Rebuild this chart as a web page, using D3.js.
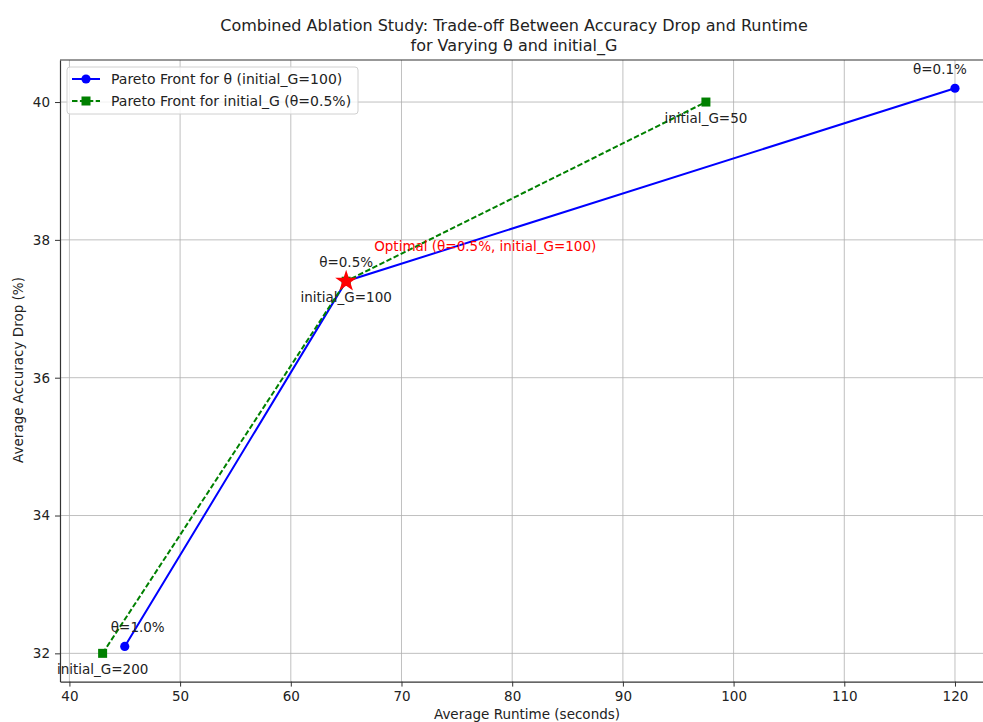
<!DOCTYPE html>
<html>
<head>
<meta charset="utf-8">
<script src="https://cdn.jsdelivr.net/npm/d3@7"></script>
<style>
  body { margin: 0; background: #fff; }
  text { font-family: "DejaVu Sans", sans-serif; }
</style>
</head>
<body>
<div id="chart"></div>
<script>
// data
var thetaRuntime = [45, 65, 120];
var thetaDrop = [32.1, 37.4, 40.2];
var thetaLabels = ['θ=1.0%', 'θ=0.5%', 'θ=0.1%'];

var gRuntime = [43, 65, 97.5];
var gDrop = [32.0, 37.4, 40.0];
var gLabels = ['initial_G=200', 'initial_G=100', 'initial_G=50'];

var optimal = [65, 37.4];
var optimalLabel = 'Optimal (θ=0.5%, initial_G=100)';

var xTicks = [40, 50, 60, 70, 80, 90, 100, 110, 120];
var yTicks = [32, 34, 36, 38, 40];

var W = 983, H = 722;
var margin = { left: 60, top: 60, right: 997.6, bottom: 681.6 };

var svg = d3.select('#chart').append('svg')
  .attr('width', W)
  .attr('height', H);

var x = d3.scaleLinear().domain([39.15, 123.85]).range([margin.left, margin.right]);
var y = d3.scaleLinear().domain([31.59, 40.61]).range([margin.bottom, margin.top]);

// grid
svg.append('g').selectAll('line').data(xTicks).enter().append('line')
  .attr('x1', d => x(d)).attr('x2', d => x(d))
  .attr('y1', margin.top).attr('y2', margin.bottom)
  .attr('stroke', '#b0b0b0').attr('stroke-width', 0.8);
svg.append('g').selectAll('line').data(yTicks).enter().append('line')
  .attr('y1', d => y(d)).attr('y2', d => y(d))
  .attr('x1', margin.left).attr('x2', margin.right)
  .attr('stroke', '#b0b0b0').attr('stroke-width', 0.8);

// axes
var xAxis = svg.append('g')
  .attr('transform', 'translate(0,' + margin.bottom + ')')
  .call(d3.axisBottom(x).tickValues(xTicks).tickSize(5).tickPadding(5).tickSizeOuter(0));
var yAxis = svg.append('g')
  .attr('transform', 'translate(' + margin.left + ',0)')
  .call(d3.axisLeft(y).tickValues(yTicks).tickSize(5).tickPadding(5).tickSizeOuter(0));
[xAxis, yAxis].forEach(function (a) {
  a.select('.domain').attr('stroke', '#333').attr('stroke-width', 1.2);
  a.selectAll('.tick line').attr('stroke', '#333');
  a.selectAll('.tick text').attr('fill', '#222').style('font-size', '13.5px')
    .style('font-family', '"DejaVu Sans", sans-serif');
});
// top spine
svg.append('line')
  .attr('x1', margin.left).attr('x2', margin.right)
  .attr('y1', margin.top).attr('y2', margin.top)
  .attr('stroke', '#333').attr('stroke-width', 1.2);

var thetaPts = thetaRuntime.map((d, i) => [d, thetaDrop[i]]);
var gPts = gRuntime.map((d, i) => [d, gDrop[i]]);

var line = d3.line().x(d => x(d[0])).y(d => y(d[1]));

// theta series
svg.append('path').datum(thetaPts)
  .attr('d', line).attr('fill', 'none')
  .attr('stroke', '#0000ff').attr('stroke-width', 2);
svg.append('g').selectAll('circle').data(thetaPts).enter().append('circle')
  .attr('cx', d => x(d[0])).attr('cy', d => y(d[1])).attr('r', 4.6)
  .attr('fill', '#0000ff');

// initial_G series
svg.append('path').datum(gPts)
  .attr('d', line).attr('fill', 'none')
  .attr('stroke', '#008000').attr('stroke-width', 2)
  .attr('stroke-dasharray', '5.5,2.4');
svg.append('g').selectAll('rect').data(gPts).enter().append('rect')
  .attr('x', d => x(d[0]) - 4.5).attr('y', d => y(d[1]) - 4.5)
  .attr('width', 9).attr('height', 9)
  .attr('fill', '#008000');

// star for optimal
svg.append('path')
  .attr('d', d3.symbol().type(d3.symbolStar).size(150))
  .attr('transform', 'translate(' + x(optimal[0]) + ',' + y(optimal[1]) + ')')
  .attr('fill', '#ff0000');

// point labels
var thetaDx = [13, 0, -15];
svg.append('g').selectAll('text').data(thetaPts).enter().append('text')
  .attr('x', (d, i) => x(d[0]) + thetaDx[i]).attr('y', d => y(d[1]) - 14)
  .attr('text-anchor', 'middle').style('font-size', '13.5px').attr('fill', '#222')
  .text((d, i) => thetaLabels[i]);
svg.append('g').selectAll('text').data(gPts).enter().append('text')
  .attr('x', d => x(d[0])).attr('y', d => y(d[1]) + 21)
  .attr('text-anchor', 'middle').style('font-size', '13.5px').attr('fill', '#222')
  .text((d, i) => gLabels[i]);
svg.append('text')
  .attr('x', x(optimal[0]) + 28).attr('y', y(optimal[1]) - 30)
  .style('font-size', '13.5px').attr('fill', '#ff0000')
  .text(optimalLabel);

// title
svg.append('text').attr('x', 514).attr('y', 31).attr('text-anchor', 'middle')
  .style('font-size', '16px').attr('fill', '#222')
  .text('Combined Ablation Study: Trade-off Between Accuracy Drop and Runtime');
svg.append('text').attr('x', 514).attr('y', 51).attr('text-anchor', 'middle')
  .style('font-size', '16px').attr('fill', '#222')
  .text('for Varying θ and initial_G');

// axis labels
svg.append('text').attr('x', 527).attr('y', 719).attr('text-anchor', 'middle')
  .style('font-size', '13.5px').attr('fill', '#222')
  .text('Average Runtime (seconds)');
svg.append('text')
  .attr('transform', 'translate(23,370) rotate(-90)')
  .attr('text-anchor', 'middle').style('font-size', '13.5px').attr('fill', '#222')
  .text('Average Accuracy Drop (%)');

// legend
var legend = svg.append('g').attr('transform', 'translate(67,67)');
legend.append('rect').attr('width', 291).attr('height', 47).attr('rx', 3)
  .attr('fill', '#fff').attr('fill-opacity', 0.8)
  .attr('stroke', '#d0d0d0');
legend.append('line').attr('x1', 5).attr('x2', 33).attr('y1', 12).attr('y2', 12)
  .attr('stroke', '#0000ff').attr('stroke-width', 2);
legend.append('circle').attr('cx', 19).attr('cy', 12).attr('r', 4.6).attr('fill', '#0000ff');
legend.append('text').attr('x', 44).attr('y', 17).style('font-size', '14px').attr('fill', '#222')
  .text('Pareto Front for θ (initial_G=100)');
legend.append('line').attr('x1', 5).attr('x2', 33).attr('y1', 34).attr('y2', 34)
  .attr('stroke', '#008000').attr('stroke-width', 2).attr('stroke-dasharray', '5.5,2.4');
legend.append('rect').attr('x', 14.5).attr('y', 29.5).attr('width', 9).attr('height', 9).attr('fill', '#008000');
legend.append('text').attr('x', 44).attr('y', 39).style('font-size', '14px').attr('fill', '#222')
  .text('Pareto Front for initial_G (θ=0.5%)');
</script>
</body>
</html>
